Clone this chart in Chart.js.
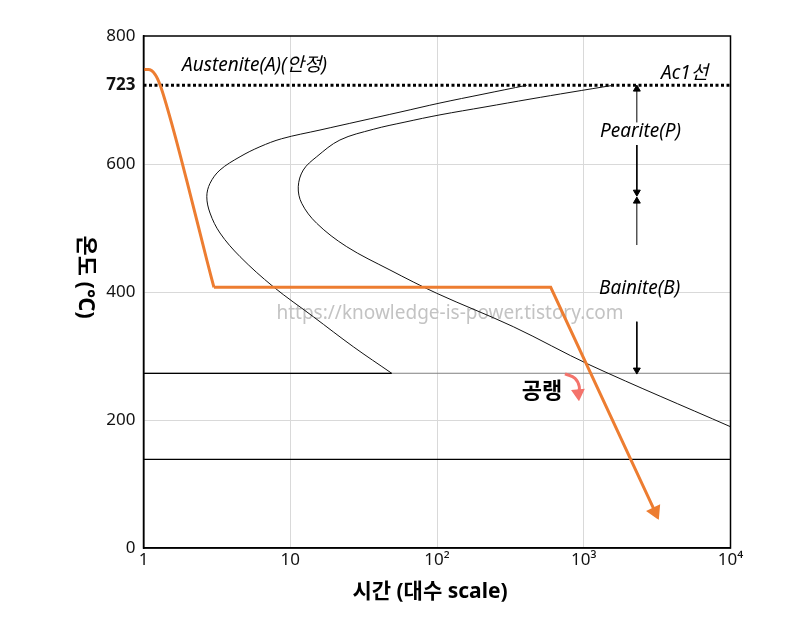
<!DOCTYPE html>
<html lang="ko">
<head>
<meta charset="utf-8">
<title>TTT 곡선</title>
<script src="https://cdn.jsdelivr.net/npm/chart.js@4.4.1/dist/chart.umd.min.js"></script>
<style>
  html, body { margin: 0; padding: 0; background: #fff; }
  #wrap { width: 789px; height: 635px; position: relative; }
</style>
</head>
<body>
<div id="wrap"><canvas id="tttChart"></canvas></div>
<script>
// ----------------------------------------------------
// DATA (time in log scale, temperature in deg C)
// ----------------------------------------------------
const xTickValues = [1, 10, 100, 1000, 10000];
const xTickLabels = ["1", "10", "10²", "10³", "10⁴"];
const yTickValues = [0, 200, 400, 600, 723, 800];

const ac1Temp = 723;
const msTemp = 273;
const mfTemp = 138.6;

// pearlite start curve (left C)
const pStartTime = [408.6, 205.8, 104.8, 55.97, 29.88, 15.95, 8.74, 6.22, 4.55, 3.32, 2.84, 2.70, 2.84, 3.32, 4.55, 7.66, 14.36, 26.89, 49.13];
const pStartTemp = [723, 709.1, 695.3, 681.1, 667.1, 653.1, 639.5, 627, 611.4, 590.6, 569.8, 548.9, 523.4, 492.2, 455.2, 408.3, 361.4, 314.5, 273];

// pearlite / bainite finish curve (right C)
const pEndTime = [1590, 818.8, 430.3, 212.4, 104.8, 60.5, 36.8, 21.8, 15.15, 12.27, 11.34, 11.97, 15.15, 24.25, 47.8, 99.5, 331, 1103, 10000];
const pEndTemp = [723, 712.2, 701.4, 689.1, 676.8, 665.5, 654.2, 637.5, 611.4, 590.6, 564.5, 538.6, 507.3, 470.8, 434.4, 398, 345.8, 285.9, 189.5];

// cooling path (quench, hold, air cool)
const coolCurveTime = [1, 1.078, 1.198, 1.296, 1.596, 2.074, 2.70, 3.02];
const coolCurveTemp = [747.6, 747.6, 740.2, 723.9, 654.2, 554.2, 450, 407.3];
const coolLineTime = [3.02, 595.5, 3059];
const coolLineTemp = [407.3, 407.3, 56.7];

// range arrows on the right
const arrowTime = 2300;
const arrowFrom = [664.9, 629.7, 473.4, 353.6];
const arrowTo = [717, 556, 542, 278];

// small "air cooling" arrow
const airArrowTime = [745, 872, 933, 918];
const airArrowTemp = [271.9, 265.2, 252, 241.7];

// text notes
const noteTexts = ["Austenite(A)(안정)", "Ac1선", "Pearite(P)", "Bainite(B)", "공랭", "https://knowledge-is-power.tistory.com"];
const noteTime = [1.83, 3361, 1290, 1270, 519.5, 122.7];
const noteTemp = [753, 742, 650, 406, 243.75, 365.6];

// ----------------------------------------------------
// HELPERS
// ----------------------------------------------------
const ORANGE = "#ED7D31";
const FONT = "'Noto Sans', 'Noto Sans CJK KR', sans-serif";

function toPoints(xs, ys) {
  return xs.map((x, i) => ({ x: x, y: ys[i] }));
}

function lineSet(points, color, width, extra) {
  return Object.assign({
    data: points,
    showLine: true,
    borderColor: color,
    backgroundColor: color,
    borderWidth: width,
    pointRadius: 0,
    tension: 0,
    fill: false
  }, extra || {});
}

const datasets = [
  lineSet(toPoints(coolCurveTime, coolCurveTemp), ORANGE, 3, { cubicInterpolationMode: "monotone", order: 0 }),
  lineSet(toPoints(coolLineTime, coolLineTemp), ORANGE, 3, {
    order: 0,
    pointRadius: [0, 0, 6],
    pointStyle: "triangle",
    pointRotation: 155,
    pointBackgroundColor: ORANGE,
    pointBorderColor: ORANGE
  }),
  lineSet(toPoints(pStartTime, pStartTemp), "#111", 1, { tension: 0.35, order: 2 }),
  lineSet(toPoints(pEndTime, pEndTemp), "#111", 1, { tension: 0.35, order: 2 }),
  lineSet(toPoints([1, 10000], [ac1Temp, ac1Temp]), "#000", 3, { borderDash: [3, 2.5], order: 3 }),
  lineSet(toPoints([1, 10000], [msTemp, msTemp]), "#808080", 1, { order: 6 }),
  lineSet(toPoints([1, pStartTime[pStartTime.length - 1]], [msTemp, msTemp]), "#000", 1.2, { order: 5 }),
  lineSet(toPoints([1, 10000], [mfTemp, mfTemp]), "#000", 1.2, { order: 5 }),
  lineSet(toPoints(airArrowTime, airArrowTemp), "#F4736B", 3, {
    tension: 0.4,
    order: 1,
    pointRadius: [0, 0, 0, 5],
    pointStyle: "triangle",
    pointRotation: 175,
    pointBackgroundColor: "#F4736B",
    pointBorderColor: "#F4736B"
  })
];

arrowFrom.forEach((from, i) => {
  const to = arrowTo[i];
  datasets.push(lineSet(toPoints([arrowTime, arrowTime], [from, to]), "#000", 1, {
    order: 1,
    pointRadius: [0, 4],
    pointStyle: "triangle",
    pointRotation: to > from ? 0 : 180,
    pointBackgroundColor: "#000",
    pointBorderColor: "#000"
  }));
});

// ----------------------------------------------------
// TEXT + FRAME PLUGIN
// ----------------------------------------------------
const notesPlugin = {
  id: "notes",
  beforeDatasetsDraw(chart) {
    const { ctx, scales } = chart;
    // watermark under the curves
    ctx.save();
    ctx.font = "19px " + FONT;
    ctx.fillStyle = "#c3c3c3";
    ctx.textAlign = "center";
    ctx.textBaseline = "middle";
    ctx.fillText(noteTexts[5], scales.x.getPixelForValue(noteTime[5]), scales.y.getPixelForValue(noteTemp[5]));
    ctx.restore();
  },
  afterDraw(chart) {
    const { ctx, scales, chartArea } = chart;
    ctx.save();
    // frame
    ctx.strokeStyle = "#000";
    ctx.lineWidth = 1.5;
    ctx.strokeRect(chartArea.left, chartArea.top, chartArea.right - chartArea.left, chartArea.bottom - chartArea.top);

    ctx.fillStyle = "#000";
    ctx.textBaseline = "middle";
    for (let i = 0; i < 5; i++) {
      const px = scales.x.getPixelForValue(noteTime[i]);
      const py = scales.y.getPixelForValue(noteTemp[i]);
      if (i === 4) {
        ctx.font = "bold 22px " + FONT;
        ctx.textAlign = "center";
      } else {
        ctx.font = "italic 19px " + FONT;
        ctx.textAlign = "left";
      }
      ctx.fillText(noteTexts[i], px, py);
    }

    // axis titles
    ctx.font = "bold 21px " + FONT;
    ctx.textAlign = "center";
    ctx.fillText("시간 (대수 scale)", 430, 592);

    ctx.translate(85, 277);
    ctx.rotate(Math.PI / 2);
    ctx.font = "bold 22px " + FONT;
    ctx.fillText("온도 (℃)", 0, 0);
    ctx.restore();
  }
};

// ----------------------------------------------------
// CHART
// ----------------------------------------------------
const ctx = document.getElementById("tttChart").getContext("2d");
new Chart(ctx, {
  type: "scatter",
  data: { datasets: datasets },
  options: {
    responsive: true,
    maintainAspectRatio: false,
    animation: false,
    layout: { padding: { top: 36, right: 58.5, left: 0, bottom: 0 } },
    plugins: {
      legend: { display: false },
      tooltip: { enabled: false }
    },
    scales: {
      x: {
        type: "logarithmic",
        min: 1,
        max: 10000,
        afterBuildTicks: (scale) => {
          scale.ticks = xTickValues.map(v => ({ value: v }));
        },
        afterFit: (scale) => { scale.height = 87; },
        ticks: {
          color: "#111",
          font: { family: FONT, size: 17 },
          padding: 2,
          maxRotation: 0,
          callback: (value) => {
            const idx = xTickValues.indexOf(value);
            return idx >= 0 ? xTickLabels[idx] : "";
          }
        },
        grid: {
          color: (c) => (c.tick && (c.tick.value === 1 || c.tick.value === 10000)) ? "rgba(0,0,0,0)" : "#d9d9d9",
          drawTicks: false
        },
        border: { display: true, color: "#000", width: 1.5 }
      },
      y: {
        type: "linear",
        min: 0,
        max: 800,
        afterBuildTicks: (scale) => {
          scale.ticks = yTickValues.map(v => ({ value: v }));
        },
        afterFit: (scale) => { scale.width = 143.5; },
        ticks: {
          color: "#111",
          padding: 8,
          font: (c) => (c.tick && c.tick.value === 723)
            ? { family: FONT, size: 17, weight: "bold" }
            : { family: FONT, size: 17 }
        },
        grid: {
          color: (c) => (c.tick && (c.tick.value === 0 || c.tick.value === 723 || c.tick.value === 800)) ? "rgba(0,0,0,0)" : "#d9d9d9",
          drawTicks: false
        },
        border: { display: true, color: "#000", width: 1.5 }
      }
    }
  },
  plugins: [notesPlugin]
});
</script>
</body>
</html>
